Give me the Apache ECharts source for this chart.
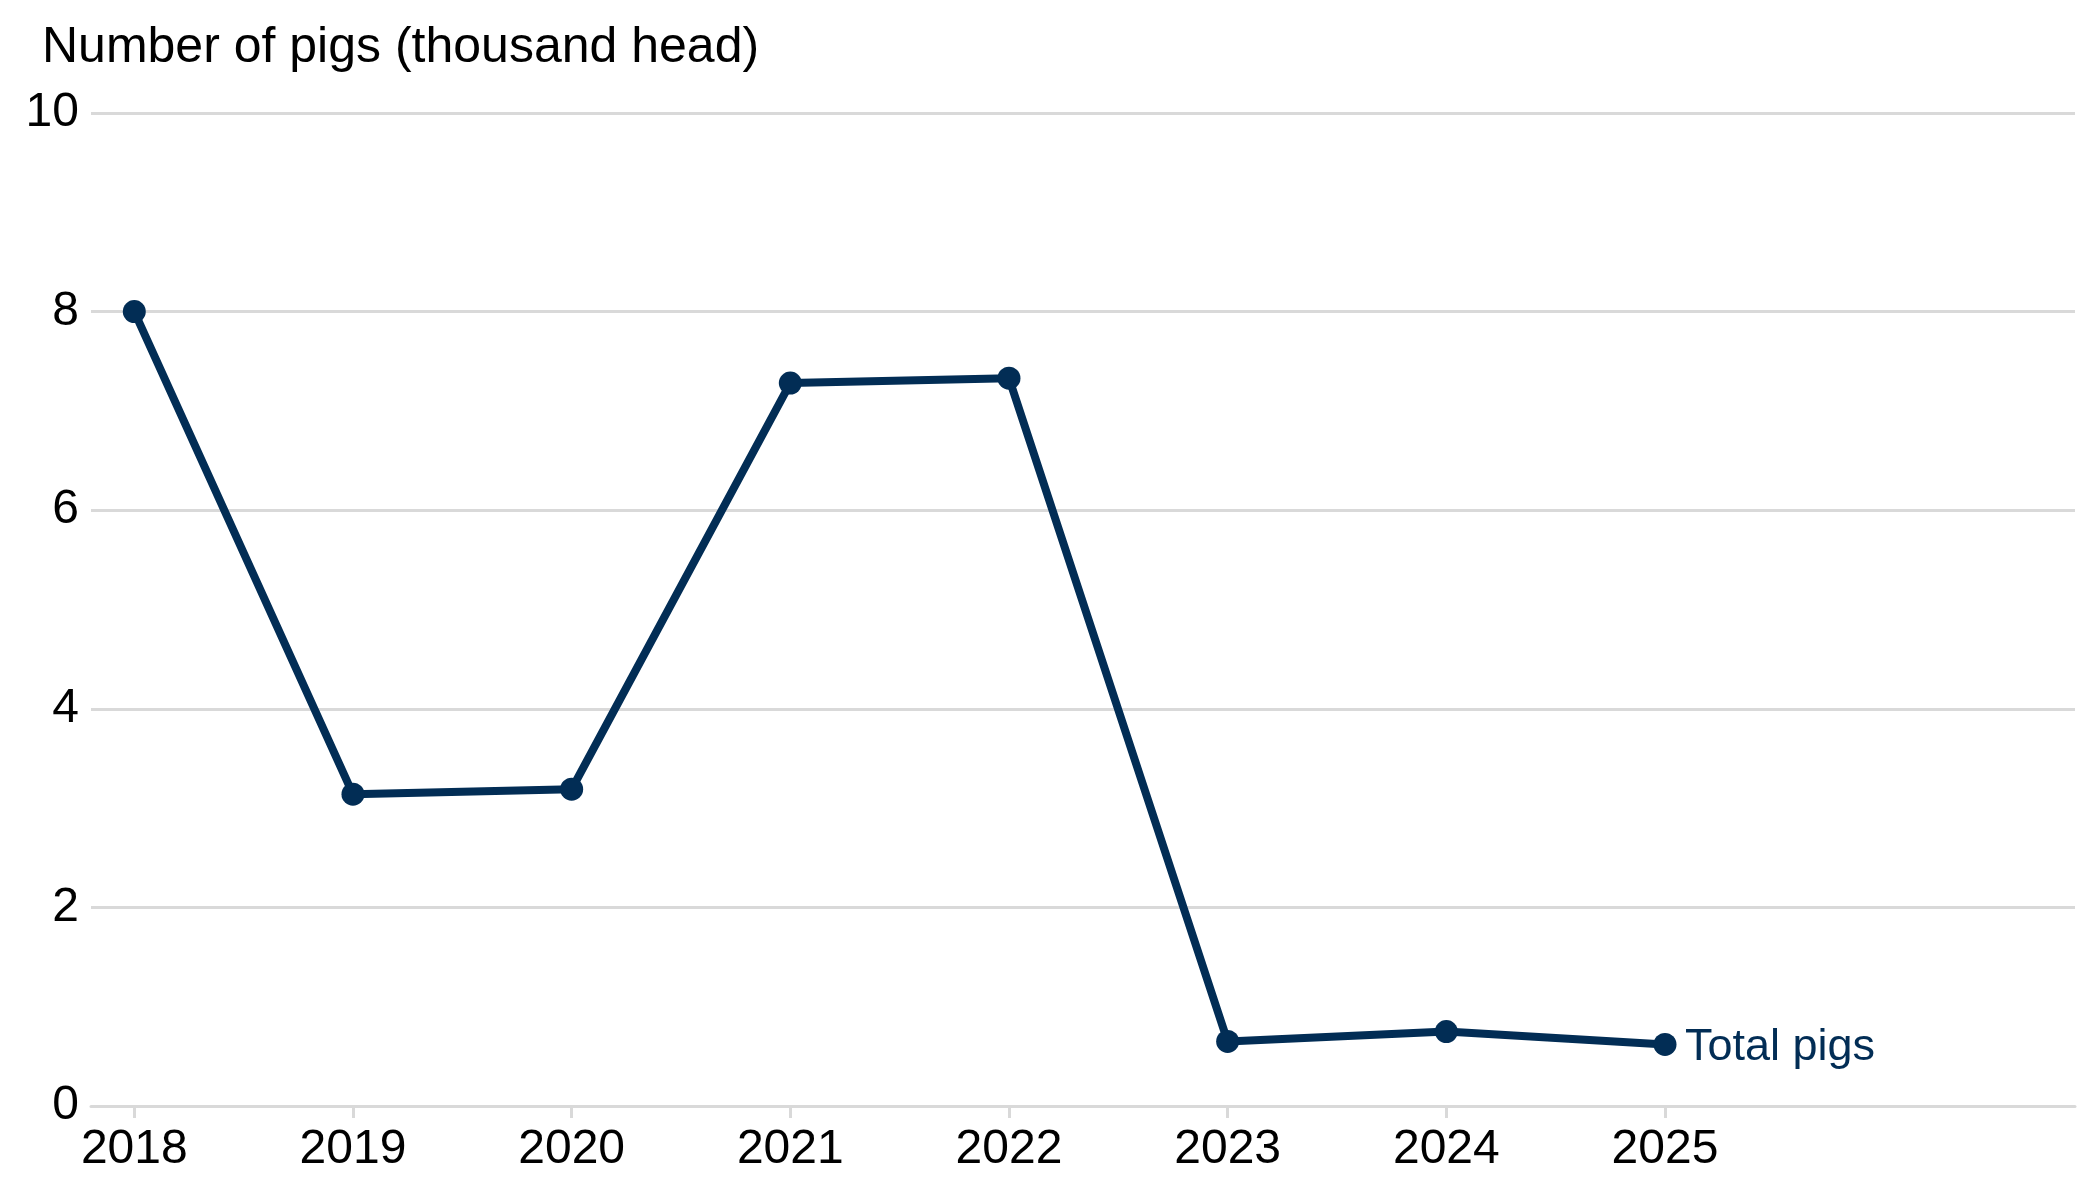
<!DOCTYPE html>
<html>
<head>
<meta charset="utf-8">
<script src="https://cdn.jsdelivr.net/npm/echarts@6/dist/echarts.min.js"></script>
<style>
html,body{margin:0;padding:0;background:#fff;}
#chart{width:2100px;height:1200px;}
</style>
</head>
<body>
<div id="chart"></div>
<script>
const years = [2018, 2019, 2020, 2021, 2022, 2023, 2024, 2025];
const totalPigs = [8.0, 3.14, 3.19, 7.28, 7.33, 0.65, 0.75, 0.62];
const yTicks = [0, 2, 4, 6, 8, 10];
const seriesName = 'Total pigs';
const axisTitle = 'Number of pigs (thousand head)';

const FONT = '"Liberation Sans", Arial, sans-serif';
const NAVY = '#022d55';
const GRID = '#d9d9d9';

const chart = echarts.init(document.getElementById('chart'), null, {renderer: 'canvas'});
chart.setOption({
  animation: false,
  backgroundColor: '#ffffff',
  textStyle: {fontFamily: FONT},
  grid: {left: 91, right: 25, top: 113, bottom: 94, containLabel: false},
  graphic: [{
    type: 'text',
    left: 42,
    top: 23,
    style: {text: axisTitle, font: '50px ' + FONT, fill: '#000000'}
  }],
  xAxis: {
    type: 'value',
    min: 2017.802,
    max: 2026.875,
    splitLine: {show: false},
    axisLine: {show: true, lineStyle: {color: GRID, width: 3}},
    axisTick: {show: true, customValues: years, length: 12, lineStyle: {color: GRID, width: 3}},
    axisLabel: {
      customValues: years,
      fontSize: 48, color: '#000000', fontFamily: FONT, margin: 20,
      formatter: v => String(v)
    }
  },
  yAxis: {
    type: 'value',
    min: yTicks[0],
    max: yTicks[yTicks.length - 1],
    interval: 2,
    axisLine: {show: false},
    axisTick: {show: false},
    splitLine: {show: true, lineStyle: {color: GRID, width: 3}},
    axisLabel: {fontSize: 48, color: '#000000', fontFamily: FONT, margin: 12}
  },
  series: [{
    name: seriesName,
    type: 'line',
    data: years.map((y, i) => [y, totalPigs[i]]),
    lineStyle: {color: NAVY, width: 8},
    itemStyle: {color: NAVY},
    symbol: 'circle',
    symbolSize: 23,
    showSymbol: true,
    endLabel: {
      show: true,
      formatter: seriesName,
      color: NAVY,
      fontSize: 45,
      fontFamily: FONT,
      distance: 20,
      offset: [0, 3]
    }
  }]
});
</script>
</body>
</html>
